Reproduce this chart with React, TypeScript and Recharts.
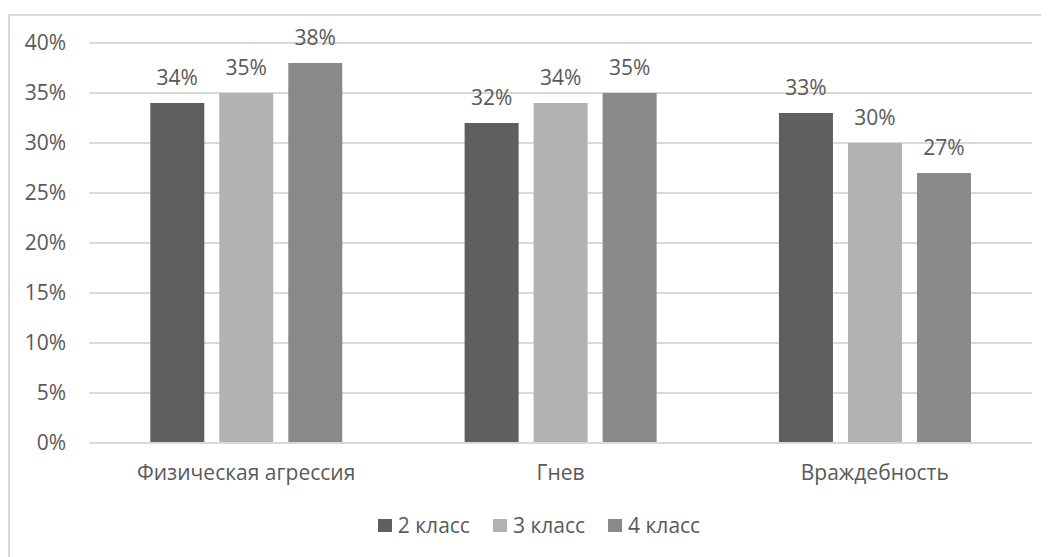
import React from "react";
import { BarChart, Bar, XAxis, YAxis, CartesianGrid, Legend, LabelList } from "recharts";

const categories = ["Физическая агрессия", "Гнев", "Враждебность"];
const grade2 = [34, 32, 33];
const grade3 = [35, 34, 30];
const grade4 = [38, 35, 27];
const yTicks = [0, 5, 10, 15, 20, 25, 30, 35, 40];
const seriesNames = ["2 класс", "3 класс", "4 класс"];
const colors = ["#5f5f5f", "#b2b2b2", "#898989"];

const data = categories.map((c, i) => ({ name: c, g2: grade2[i], g3: grade3[i], g4: grade4[i] }));

const FONT = "'Open Sans', sans-serif";
const TXT = "#595959";
const FS = 21;

const LegendContent = (props: any) => {
  const payload = props.payload || [];
  return (
    <div
      style={{
        display: "flex",
        justifyContent: "center",
        alignItems: "center",
        paddingLeft: 38,
        fontFamily: FONT,
        fontSize: FS,
        color: TXT,
        lineHeight: "26px",
      }}
    >
      {payload.map((p: any, i: number) => (
        <div
          key={i}
          style={{ display: "flex", alignItems: "center", marginRight: i < payload.length - 1 ? 23 : 0 }}
        >
          <span style={{ display: "inline-block", width: 14, height: 13, background: p.color, marginRight: 6 }} />
          <span>{p.value}</span>
        </div>
      ))}
    </div>
  );
};

export default function App() {
  return (
    <div style={{ position: "relative", width: 1041, height: 549, fontFamily: FONT }}>
      <div
        style={{
          position: "absolute",
          left: 0,
          top: 6,
          width: 1041,
          height: 543,
          borderLeft: "2px solid #d9d9d9",
          borderTop: "2px solid #d9d9d9",
          boxSizing: "border-box",
        }}
      />
      <div style={{ position: "absolute", left: 0, top: 0 }}>
        <BarChart
          width={1041}
          height={549}
          data={data}
          margin={{ top: 35, right: 17, left: 0, bottom: 5 }}
          barCategoryGap="19.5%"
          barGap={15}
        >
          <CartesianGrid vertical={false} stroke="#d9d9d9" strokeWidth={2} />
          <XAxis
            dataKey="name"
            axisLine={{ stroke: "#d9d9d9", strokeWidth: 2 }}
            tickLine={false}
            tickMargin={16}
            height={69}
            tick={{ fill: TXT, fontSize: FS, fontFamily: FONT }}
          />
          <YAxis
            domain={[0, 40]}
            ticks={yTicks}
            width={81}
            axisLine={false}
            tickLine={false}
            tickMargin={17}
            tickFormatter={(v: number) => `${v}%`}
            tick={{ fill: TXT, fontSize: FS, fontFamily: FONT }}
          />
          <Legend verticalAlign="bottom" height={40} content={<LegendContent />} />
          <Bar dataKey="g2" name={seriesNames[0]} fill={colors[0]} isAnimationActive={false}>
            <LabelList dataKey="g2" position="top" offset={18} formatter={(v: number) => `${v}%`} fill={TXT} fontSize={FS} fontFamily={FONT} />
          </Bar>
          <Bar dataKey="g3" name={seriesNames[1]} fill={colors[1]} isAnimationActive={false}>
            <LabelList dataKey="g3" position="top" offset={18} formatter={(v: number) => `${v}%`} fill={TXT} fontSize={FS} fontFamily={FONT} />
          </Bar>
          <Bar dataKey="g4" name={seriesNames[2]} fill={colors[2]} isAnimationActive={false}>
            <LabelList dataKey="g4" position="top" offset={18} formatter={(v: number) => `${v}%`} fill={TXT} fontSize={FS} fontFamily={FONT} />
          </Bar>
        </BarChart>
      </div>
    </div>
  );
}
